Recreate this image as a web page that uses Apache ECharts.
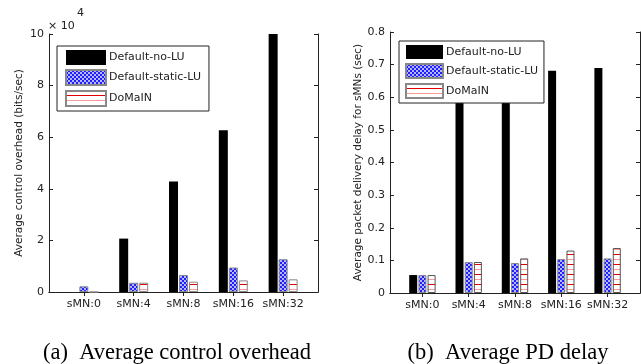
<!DOCTYPE html>
<html>
<head>
<meta charset="utf-8">
<script src="https://cdn.jsdelivr.net/npm/echarts@6/dist/echarts.min.js"></script>
<style>
html, body { margin: 0; padding: 0; background: #fff; }
#chart { width: 641px; height: 364px; }
</style>
</head>
<body>
<div id="chart"></div>
<script>
var categories = ['sMN:0', 'sMN:4', 'sMN:8', 'sMN:16', 'sMN:32'];
var seriesNames = ['Default-no-LU', 'Default-static-LU', 'DoMaIN'];

// (a) control overhead, in units of 10^4 bits/sec
var overheadNoLU = [0, 2.07, 4.28, 6.27, 10];
var overheadStaticLU = [0.22, 0.36, 0.66, 0.95, 1.27];
var overheadDomain = [0, 0.36, 0.40, 0.45, 0.49];

// (b) packet delivery delay, sec
var delayNoLU = [0.055, 0.67, 0.675, 0.681, 0.69];
var delayStaticLU = [0.055, 0.095, 0.092, 0.104, 0.106];
var delayDomain = [0.055, 0.095, 0.106, 0.13, 0.138];

var font = 'DejaVu Sans';
var ink = '#222';

function dotPattern() {
  var c = document.createElement('canvas');
  c.width = 4; c.height = 4;
  var g = c.getContext('2d');
  g.fillStyle = '#1f1fff';
  g.fillRect(0, 0, 4, 4);
  g.fillStyle = '#fff';
  g.beginPath(); g.arc(1, 1, 0.9, 0, 7); g.fill();
  g.beginPath(); g.arc(3, 3, 0.9, 0, 7); g.fill();
  return c;
}

function stripePattern() {
  var c = document.createElement('canvas');
  c.width = 4; c.height = 10;
  var g = c.getContext('2d');
  g.fillStyle = '#fff';
  g.fillRect(0, 0, 4, 10);
  g.fillStyle = '#e00000';
  g.fillRect(0, 4, 4, 1);
  g.fillStyle = '#ff9a9a';
  g.fillRect(0, 9, 4, 1);
  return c;
}

var dots = { image: dotPattern(), repeat: 'repeat' };
var stripes = { image: stripePattern(), repeat: 'repeat' };
var slots = [1, 2, 3, 4, 5];

function pairs(arr) {
  return arr.map(function (v, i) { return [slots[i], v]; });
}

function xAxis(gi, pos, withLabels) {
  return {
    type: 'value', gridIndex: gi, position: pos,
    min: 0.3, max: 5.7,
    axisLine: { lineStyle: { color: ink, width: 1 } },
    splitLine: { show: false },
    axisTick: { inside: true, length: 4, customValues: slots, lineStyle: { color: ink } },
    axisLabel: withLabels ? {
      customValues: slots, margin: 7,
      formatter: function (v) { return categories[Math.round(v) - 1]; },
      fontFamily: font, fontSize: 11, color: ink
    } : { show: false }
  };
}

function yAxis(gi, pos, max, interval, name, gap, withLabels) {
  var ax = {
    type: 'value', gridIndex: gi, position: pos,
    min: 0, max: max, interval: interval,
    axisLine: { show: true, lineStyle: { color: ink, width: 1 } },
    splitLine: { show: false },
    axisTick: { show: true, inside: true, length: 4, lineStyle: { color: ink } },
    axisLabel: withLabels ? { margin: 5, fontFamily: font, fontSize: 11, color: ink } : { show: false }
  };
  if (name) {
    ax.name = name;
    ax.nameLocation = 'middle';
    ax.nameRotate = 90;
    ax.nameGap = gap;
    ax.nameTextStyle = { fontFamily: font, fontSize: 10.5, color: ink };
  }
  return ax;
}

function bars(gi, name, data, color, width, gap, border) {
  return {
    name: name, type: 'bar',
    xAxisIndex: gi * 2, yAxisIndex: gi * 2,
    data: pairs(data),
    barWidth: width, barGap: gap,
    itemStyle: { color: color, borderColor: border, borderWidth: border ? 1 : 0 }
  };
}

function legend(left, top, w, h, pad) {
  return {
    left: left, top: top, orient: 'vertical', align: 'left',
    icon: 'rect', itemWidth: w, itemHeight: h, itemGap: 4,
    padding: pad,
    backgroundColor: '#fff', borderColor: ink, borderWidth: 1,
    textStyle: { fontFamily: font, fontSize: 11, color: ink, padding: [0, 0, 0, -2] },
    data: seriesNames
  };
}

var chart = echarts.init(document.getElementById('chart'));
chart.setOption({
  animation: false,
  backgroundColor: '#fff',
  grid: [
    { left: 49, top: 34, width: 269, height: 258 },
    { left: 390, top: 32, width: 250, height: 261 }
  ],
  xAxis: [
    xAxis(0, 'bottom', true), xAxis(0, 'top', false),
    xAxis(1, 'bottom', true), xAxis(1, 'top', false)
  ],
  yAxis: [
    yAxis(0, 'left', 10, 2, 'Average control overhead (bits/sec)', 24, true),
    yAxis(0, 'right', 10, 2, null, 0, false),
    yAxis(1, 'left', 0.8, 0.1, 'Average packet delivery delay for sMNs (sec)', 26, true),
    yAxis(1, 'right', 0.8, 0.1, null, 0, false)
  ],
  legend: [
    legend(57, 46, 40, 15, [4, 8, 4, 8]),
    legend(399, 41, 37, 14, [4, 6, 4, 6])
  ],
  series: [
    bars(0, seriesNames[0], overheadNoLU, '#000', 9, '11%', null),
    bars(0, seriesNames[1], overheadStaticLU, dots, 9, '11%', '#888'),
    bars(0, seriesNames[2], overheadDomain, stripes, 9, '11%', '#888'),
    bars(1, seriesNames[0], delayNoLU, '#000', 8, '15%', null),
    bars(1, seriesNames[1], delayStaticLU, dots, 8, '15%', '#888'),
    bars(1, seriesNames[2], delayDomain, stripes, 8, '15%', '#555')
  ],
  graphic: [
    { type: 'text', left: 48, top: 21, style: { text: '\u00d7 10', fontFamily: font, fontSize: 11, fill: ink } },
    { type: 'text', left: 77, top: 8, style: { text: '4', fontFamily: font, fontSize: 11, fill: ink } },
    { type: 'text', x: 177, y: 353, style: { text: '(a)  Average control overhead', fontFamily: 'Liberation Serif', fontSize: 22.5, fill: '#000', align: 'center', verticalAlign: 'middle' } },
    { type: 'text', x: 508, y: 353, style: { text: '(b)  Average PD delay', fontFamily: 'Liberation Serif', fontSize: 22.5, fill: '#000', align: 'center', verticalAlign: 'middle' } }
  ]
});
</script>
</body>
</html>
